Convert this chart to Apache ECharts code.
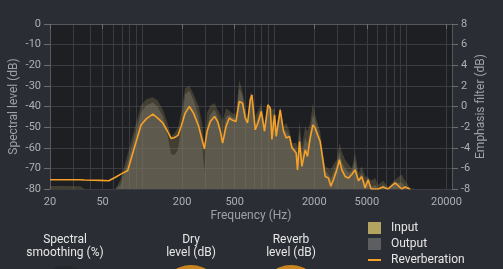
<!DOCTYPE html>
<html><head><meta charset="utf-8">
<style>html,body{margin:0;padding:0;background:#2a2d33;overflow:hidden}#c{width:503px;height:269px;}</style>
<script src="https://cdn.jsdelivr.net/npm/echarts@6/dist/echarts.min.js"></script>
</head><body><div id="c"></div>
<script>
// Frequencies (Hz)
const freqs = [
  20, 26, 34, 36.5, 48, 55.7, 62.6, 68.2, 77.5, 87,
  97.8, 107, 120, 130, 143, 155, 165, 175, 186, 197,
  211, 227, 244, 267, 283, 295, 309, 327, 352, 371,
  389, 405, 430, 455, 477, 511, 541, 573, 601, 625,
  656, 675, 715, 750, 794, 841, 892, 929, 956, 1001,
  1031, 1105, 1170, 1227, 1299, 1355, 1460, 1493, 1547, 1612,
  1708, 1777, 1863, 1952, 2032, 2115, 2217, 2323, 2418, 2561,
  2670, 2794, 2964, 3101, 3234, 3425, 3627, 3849, 4077, 4317,
  4581, 4851, 5111, 5385, 5773, 6082, 6635, 7239, 8178, 9190,
  9729, 10615, 11580, 13785, 22050
];
// Reverberation (dB)
const reverb = [
  -75.5, -75.5, -75.5, -75.6, -75.8, -76, -74.3, -72.9, -71, -60,
  -49, -46, -43.7, -45.5, -48, -52, -55.5, -55, -54, -49.5,
  -43.2, -40, -43.2, -49.7, -56, -60.6, -52, -47.3, -44.8, -47.3,
  -52, -57.7, -49.7, -45.6, -46.5, -47.3, -37.6, -38.4, -45.6, -48,
  -36.8, -34.4, -51.3, -48, -42.4, -52, -39.2, -40.8, -56, -44,
  -54.5, -41.6, -52, -55.3, -54.5, -60, -62.6, -70.7, -57, -69,
  -61, -64.2, -55.3, -48.9, -50.5, -53.7, -57, -65.8, -73.9, -74.7,
  -78.7, -75.5, -70.7, -65.8, -70.7, -73.9, -74.7, -73, -70.7, -76,
  -74, -79.5, -75.5, -80, -80, -80, -79, -80, -77, -80,
  -79, -80, null, null, null
];
// Input spectrum (dB)
const inputLvl = [
  -78.5, -78.5, -78.7, -80, -80, -80, -80, -75.5, -63, -51,
  -39.5, -36.5, -35.5, -37, -41.6, -48, -54.5, -53, -50, -43,
  -31, -30, -34, -40, -48, -58, -43, -39.5, -38.4, -41.6,
  -44, -47, -40.8, -42, -43.2, -44, -27.1, -32.8, -40, -46.5,
  -33, -32.8, -44.8, -42, -38.4, -48, -38.4, -40, -41.6, -41,
  -49.7, -40, -49.7, -48, -52, -57.7, -57.7, -60, -47.3, -59.4,
  -49.7, -52, -48, -38.4, -44, -48, -52, -62.6, -69, -70,
  -70.7, -68, -65.8, -57.7, -62, -65.8, -68, -70, -62.6, -72.3,
  -69, -74, -74, -76, -74.7, -78, -76, -79, -75.5, -73,
  -76, -79.5, -80, -80, -80
];
// Output spectrum (dB)
const outputLvl = [
  -80, -80, -80, -80, -80, -80, -80, -78, -67, -55,
  -43, -39.5, -38, -40, -44.8, -54, -63, -63.5, -61, -50,
  -34, -32.5, -37, -45, -58, -72, -50, -44, -41.5, -45,
  -50, -56, -45, -44, -45, -46, -31, -35, -43, -47.5,
  -35, -33.5, -49, -45, -40.5, -51, -38.8, -41, -48, -43,
  -52, -41, -51, -52, -54, -59, -61, -66, -52, -64,
  -55, -58, -52, -44, -47, -51, -55, -64, -71, -73,
  -75, -72, -68, -62, -67, -70, -72, -71.5, -66, -75,
  -72, -77, -75, -79, -78, -80, -78, -80, -77, -77,
  -78.5, -80, -80, -80, -80
];
const xTicks = [20, 50, 200, 500, 2000, 5000, 20000];
const gridFreqs = [30,40,50,60,70,80,90,100,200,300,400,500,600,700,800,900,1000,
  2000,3000,4000,5000,6000,7000,8000,9000,10000,20000];
const fMin = 20, fMax = 22050;

// frequency axis is logarithmic: values are placed by log10(Hz)
const lg = f => Math.log10(f);
const pair = arr => freqs.map((f, i) => [lg(f), arr[i]]);

const chart = echarts.init(document.getElementById('c'));
const axisText = '#aeb0b4';
const nameCol = '#9fa1a6';
chart.setOption({
  backgroundColor: '#2a2d33',
  animation: false,
  textStyle: { fontFamily: 'Roboto' },
  grid: { left: 50, right: 51, top: 24, bottom: 80, show: true, backgroundColor: '#1e1f23', borderWidth: 0,
    containLabel: false, outerBoundsMode: 'none' },
  xAxis: [
    { type: 'value', min: lg(fMin), max: lg(fMax),
      name: 'Frequency (Hz)', nameLocation: 'middle', nameGap: 21, nameMoveOverlap: false,
      nameTextStyle: { color: nameCol, fontSize: 12 },
      axisLine: { show: true, lineStyle: { color: '#55585e' } },
      axisTick: { show: true, customValues: xTicks.map(lg), length: 5, lineStyle: { color: '#6a6d72' } },
      axisLabel: { customValues: xTicks.map(lg), color: axisText, fontSize: 11, margin: 8,
        formatter: v => String(Math.round(Math.pow(10, v))) },
      splitLine: { show: false } },
    { type: 'value', min: lg(fMin), max: lg(fMax), position: 'bottom',
      axisLine: { show: false }, axisLabel: { show: false },
      axisTick: { show: false, customValues: gridFreqs.map(lg) },
      splitLine: { show: true, lineStyle: { color: '#3a3c42', width: 1 } } }
  ],
  yAxis: [
    { type: 'value', min: -80, max: 0, interval: 10, position: 'left',
      name: 'Spectral level (dB)', nameLocation: 'middle', nameGap: 30, nameRotate: 90, nameMoveOverlap: false,
      nameTextStyle: { color: nameCol, fontSize: 12 },
      axisLine: { show: true, lineStyle: { color: '#55585e' } },
      axisTick: { show: true, length: 6, lineStyle: { color: '#6a6d72' } },
      axisLabel: { color: axisText, fontSize: 11, margin: 9 },
      splitLine: { show: true, lineStyle: { color: '#3a3c42' } } },
    { type: 'value', min: -8, max: 8, interval: 2, position: 'right',
      name: 'Emphasis filter (dB)', nameLocation: 'middle', nameGap: 23, nameRotate: 90, nameMoveOverlap: false,
      nameTextStyle: { color: nameCol, fontSize: 12 },
      axisLine: { show: true, lineStyle: { color: '#55585e' } },
      axisTick: { show: true, length: 6, lineStyle: { color: '#6a6d72' } },
      axisLabel: { color: axisText, fontSize: 11, margin: 9 },
      splitLine: { show: false } }
  ],
  legend: {
    orient: 'vertical', left: 368, top: 222, itemWidth: 13, itemHeight: 12, itemGap: 4, padding: 0,
    selectedMode: false,
    textStyle: { color: '#e6e6e6', fontSize: 12, lineHeight: 12, padding: [0, 0, 0, 5] },
    data: [
      { name: 'Input', icon: 'rect', itemStyle: { color: '#b3a462' } },
      { name: 'Output', icon: 'rect', itemStyle: { color: '#5d5e62' } },
      { name: 'Reverberation', icon: 'path://M0,0 H13 V2 H0 Z', itemStyle: { color: '#f5a028' } }
    ]
  },
  series: [
    { name: 'Output', type: 'line', data: pair(outputLvl), symbol: 'none', z: 2,
      lineStyle: { width: 0, color: '#5d5e62' }, itemStyle: { color: '#5d5e62' },
      areaStyle: { color: 'rgba(93,94,98,0.8)', origin: 'start' } },
    { name: 'Input', type: 'line', data: pair(inputLvl), symbol: 'none', z: 3,
      lineStyle: { width: 0, color: '#b3a462' }, itemStyle: { color: '#b3a462' },
      areaStyle: { color: 'rgba(179,164,98,0.35)', origin: 'start' } },
    { name: 'Reverberation', type: 'line', data: pair(reverb), symbol: 'none', z: 4,
      lineStyle: { width: 1.6, color: '#f5a028' }, itemStyle: { color: '#f5a028' } }
  ],
  graphic: [
    { type: 'circle', shape: { cx: 65, cy: 296, r: 30 }, style: { fill: '#25272c' }, silent: true },
    { type: 'circle', shape: { cx: 191, cy: 295, r: 30 }, style: { fill: '#c8841f' }, silent: true },
    { type: 'circle', shape: { cx: 291, cy: 295, r: 30 }, style: { fill: '#c8841f' }, silent: true },
    { type: 'text', x: 65, y: 233.5, silent: true,
      style: { text: 'Spectral\nsmoothing (%)', fill: '#e8e8e8', font: '12px Roboto', align: 'center', verticalAlign: 'top', lineHeight: 13 } },
    { type: 'text', x: 191, y: 233.5, silent: true,
      style: { text: 'Dry\nlevel (dB)', fill: '#e8e8e8', font: '12px Roboto', align: 'center', verticalAlign: 'top', lineHeight: 13 } },
    { type: 'text', x: 291, y: 233.5, silent: true,
      style: { text: 'Reverb\nlevel (dB)', fill: '#e8e8e8', font: '12px Roboto', align: 'center', verticalAlign: 'top', lineHeight: 13 } }
  ]
});
</script>
</body></html>
